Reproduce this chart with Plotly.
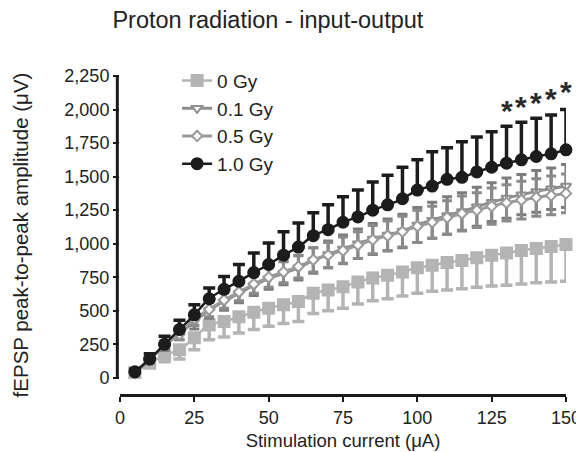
import plotly.graph_objects as go

current = [5, 10, 15, 20, 25, 30, 35, 40, 45, 50, 55, 60, 65, 70, 75, 80, 85, 90, 95, 100,
           105, 110, 115, 120, 125, 130, 135, 140, 145, 150]

gy0 = [40, 110, 170, 210, 300, 395, 420, 455, 490, 520, 545, 570, 630, 655, 680, 715, 745, 765, 790, 820,
       840, 860, 875, 895, 915, 930, 950, 965, 980, 995]
gy0_err = [15, 30, 50, 70, 90, 110, 115, 120, 130, 135, 140, 150, 150, 155, 160, 165, 170, 175, 180, 190,
           195, 205, 210, 220, 230, 240, 250, 255, 265, 275]

gy01 = [45, 140, 240, 330, 420, 505, 570, 630, 690, 740, 780, 820, 875, 920, 960, 1000, 1035, 1065, 1095, 1140,
        1175, 1210, 1240, 1275, 1310, 1340, 1365, 1390, 1410, 1430]
gy01_err = [15, 25, 35, 45, 55, 60, 65, 70, 75, 80, 85, 90, 95, 100, 105, 110, 115, 120, 125, 130,
            135, 140, 140, 145, 145, 150, 150, 155, 155, 160]

gy05 = [35, 135, 245, 325, 440, 510, 580, 640, 700, 750, 790, 830, 880, 915, 950, 990, 1030, 1060, 1090, 1130,
        1160, 1195, 1225, 1250, 1280, 1305, 1325, 1345, 1360, 1375]
gy05_err = [15, 25, 35, 40, 50, 55, 60, 65, 70, 75, 80, 85, 90, 95, 100, 100, 105, 110, 115, 120,
            120, 125, 130, 130, 135, 135, 140, 140, 145, 145]

gy10 = [45, 140, 250, 360, 470, 590, 660, 720, 785, 845, 915, 975, 1060, 1105, 1160, 1200, 1250, 1290, 1335, 1400,
        1430, 1480, 1495, 1535, 1570, 1600, 1625, 1650, 1670, 1700]
gy10_err = [20, 40, 60, 70, 75, 80, 95, 125, 145, 160, 175, 180, 170, 185, 190, 200, 210, 220, 235, 225,
            255, 235, 265, 260, 265, 275, 280, 285, 290, 300]

star_x = [130, 135, 140, 145, 150]
star_y = [1990, 2020, 2055, 2080, 2135]

fig = go.Figure()

def add(name, y, err, color, symbol, fill, mode_err, size, errcolor=None, lw=2.5):
    ec = errcolor or color
    if mode_err == "up":
        ed = dict(type="data", symmetric=False, array=err, arrayminus=[0] * len(err),
                  visible=True, color=ec, thickness=3.5, width=6)
    elif mode_err == "down":
        ed = dict(type="data", symmetric=False, array=[0] * len(err), arrayminus=err,
                  visible=True, color=ec, thickness=3.5, width=6)
    else:
        ed = dict(type="data", array=err, visible=True, color=ec, thickness=3, width=5)
    fig.add_trace(go.Scatter(
        x=current, y=y, name=name, mode="lines+markers",
        line=dict(color=color, width=lw, shape="spline"),
        marker=dict(symbol=symbol, size=size, color=fill, line=dict(color=color, width=2)),
        error_y=ed, cliponaxis=False,
    ))

add("0 Gy", gy0, gy0_err, "#b4b4b4", "square", "#b4b4b4", "down", 11)
add("0.1 Gy", gy01, gy01_err, "#8e8e8e", "triangle-down", "#ffffff", "both", 9, "#7c7c7c", 3)
add("0.5 Gy", gy05, gy05_err, "#9a9a9a", "diamond", "#ffffff", "both", 8, "#8a8a8a", 3)
add("1.0 Gy", gy10, gy10_err, "#1c1c1c", "circle", "#1c1c1c", "up", 11)

for sx, sy in zip(star_x, star_y):
    fig.add_annotation(x=sx, y=sy, text="<b>*</b>", showarrow=False,
                       font=dict(size=30, color="#2a2a2a"), xref="x", yref="y")

fig.add_shape(type="line", xref="paper", yref="y", x0=-0.006, x1=-0.006, y0=0, y1=2250,
              line=dict(color="#1a1a1a", width=3))

fig.update_layout(
    width=584, height=452,
    margin=dict(l=112, r=26, t=68, b=66),
    paper_bgcolor="white", plot_bgcolor="white",
    font=dict(family="Liberation Sans, Arial, sans-serif", color="#222222"),
    title=dict(text="Proton radiation - input-output", x=0.445, xanchor="center", y=0.973,
               yanchor="middle", font=dict(size=23.5, color="#222222")),
    showlegend=True,
    legend=dict(x=0.128, y=1.045, xanchor="left", yanchor="top", bgcolor="rgba(0,0,0,0)",
                font=dict(size=19, color="#222222"), tracegroupgap=0, itemwidth=30),
    xaxis=dict(range=[0, 150], tickvals=[0, 25, 50, 75, 100, 125, 150], automargin=False,
               showline=True, linecolor="#1a1a1a", linewidth=3, ticks="outside",
               ticklen=5, tickwidth=2, tickcolor="#1a1a1a", showgrid=False, zeroline=False,
               tickfont=dict(size=18, color="#222222"),
               title=dict(text="Stimulation current (μA)", font=dict(size=18.5, color="#222222"), standoff=8)),
    yaxis=dict(range=[-120, 2250], tickvals=[0, 250, 500, 750, 1000, 1250, 1500, 1750, 2000, 2250],
               tickformat=",d", showline=False, ticks="outside", ticklen=6, tickwidth=2, automargin=False,
               tickcolor="#1a1a1a", showgrid=False, zeroline=False,
               tickfont=dict(size=18, color="#222222"),
               title=dict(text="fEPSP peak-to-peak amplitude (μV)", font=dict(size=20.5, color="#222222"), standoff=30)),
)

fig.write_html("out.html")
